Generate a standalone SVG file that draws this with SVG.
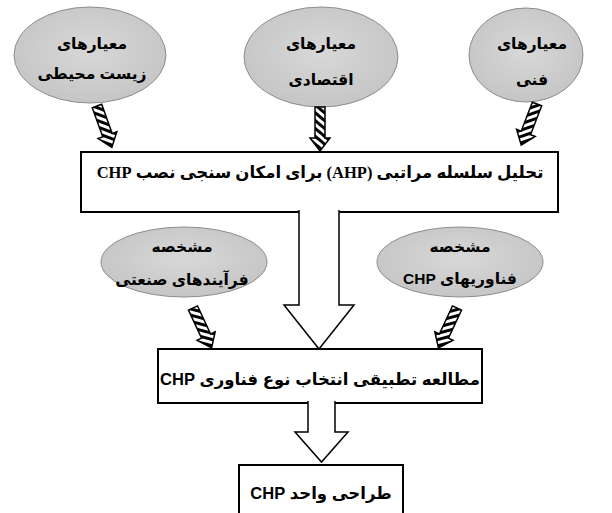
<svg xmlns="http://www.w3.org/2000/svg" xmlns:xlink="http://www.w3.org/1999/xlink" width="612" height="513" viewBox="0 0 612 513">
<style>
.ell{fill:url(#eg);stroke:#8c8c8c;stroke-width:1}
.box{fill:#fff;stroke:#000;stroke-width:2}
.et{font-family:"Liberation Sans","DejaVu Sans",sans-serif;font-weight:bold;font-size:15.5px;fill:#000;text-anchor:middle;direction:rtl}
.bt1{font-family:"Liberation Serif","DejaVu Sans",serif;font-weight:bold;font-size:16.5px;fill:#000;text-anchor:middle;direction:rtl}
.bt{font-family:"Liberation Sans","DejaVu Sans",sans-serif;font-weight:bold;font-size:16.5px;fill:#000;text-anchor:middle;direction:rtl}
.ha{fill:url(#hatch);stroke:#000;stroke-width:1.5;stroke-linejoin:miter}
.big{fill:#fff;stroke:#000;stroke-width:1.5;stroke-linejoin:miter}
</style>
<defs>
<radialGradient id="eg" cx="50%" cy="45%" r="60%">
<stop offset="0" stop-color="#d8d8d8"/>
<stop offset="1" stop-color="#c4c4c4"/>
</radialGradient>
<pattern id="hatch" patternUnits="userSpaceOnUse" width="6" height="6" patternTransform="rotate(-40)">
<rect width="6" height="6" fill="#fff"/>
<rect width="6" height="3" fill="#000"/>
</pattern>
<path id="ha" class="ha" d="M-5,0 L5,0 L5,31 L10,31 L0,44 L-10,31 L-5,31 Z"/>
</defs>

<g id="node-env">
<ellipse class="ell" cx="90" cy="55" rx="76" ry="48"/>
<text class="et" x="92" y="49">معیارهای</text>
<text class="et" x="92" y="79">زیست محیطی</text>
</g>
<g id="node-eco">
<ellipse class="ell" cx="321" cy="57" rx="77" ry="50"/>
<text class="et" x="321" y="49">معیارهای</text>
<text class="et" x="321" y="85">اقتصادی</text>
</g>
<g id="node-tech">
<ellipse class="ell" cx="526" cy="55" rx="57" ry="47"/>
<text class="et" x="532" y="49">معیارهای</text>
<text class="et" x="532" y="85">فنی</text>
</g>
<g id="node-ahp">
<rect class="box" x="81" y="152" width="477" height="60"/>
<text class="bt1" x="320" y="178">تحلیل سلسله مراتبی (AHP) برای امکان سنجی نصب CHP</text>
</g>
<g id="node-proc">
<ellipse class="ell" cx="184" cy="262" rx="83" ry="35"/>
<text class="et" x="182" y="252">مشخصه</text>
<text class="et" x="182" y="285">فرآیندهای صنعتی</text>
</g>
<g id="node-chptech">
<ellipse class="ell" cx="460" cy="262" rx="83" ry="35"/>
<text class="et" x="460" y="252">مشخصه</text>
<text class="et" x="460" y="284">فناوریهای CHP</text>
</g>
<g id="node-compare">
<rect class="box" x="158" y="349" width="324" height="54"/>
<text class="bt" x="320" y="385">مطالعه تطبیقی انتخاب نوع فناوری CHP</text>
</g>
<g id="node-design">
<rect class="box" x="239" y="465" width="164" height="60"/>
<text class="bt" x="321" y="499">طراحی واحد CHP</text>
</g>

<g id="connectors">
<use xlink:href="#ha" transform="translate(97,106) scale(-1,1) rotate(19.7)"/>
<use xlink:href="#ha" transform="translate(320,107) scale(-1,1)"/>
<use xlink:href="#ha" transform="translate(537,104) rotate(21)"/>
<use xlink:href="#ha" transform="translate(193,308) scale(-1,1) rotate(25)"/>
<use xlink:href="#ha" transform="translate(457,308) rotate(25)"/>
<path class="big" d="M299,210 V305 H284 L319,349 L354,305 H339 V210"/>
<path class="big" d="M308,401 V432 H295 L321.5,462 L348,432 H335 V401"/>
</g>
</svg>
